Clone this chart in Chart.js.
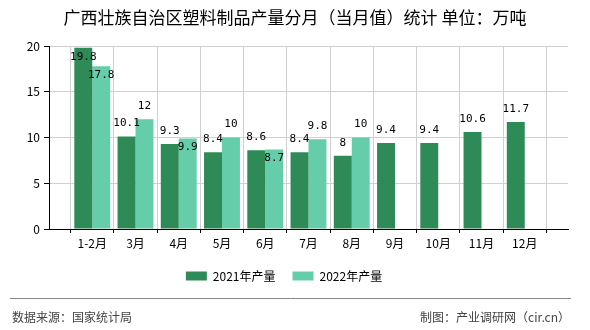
<!DOCTYPE html>
<html>
<head>
<meta charset="utf-8">
<script src="https://cdn.jsdelivr.net/npm/chart.js@4.4.0/dist/chart.umd.min.js"></script>
<style>
  html, body { margin: 0; padding: 0; background: #fff; }
  #wrap { width: 590px; height: 330px; position: relative; }
</style>
</head>
<body>
<div id="wrap"><canvas id="c"></canvas></div>
<script>
// data
const categories = ['1-2月', '3月', '4月', '5月', '6月', '7月', '8月', '9月', '10月', '11月', '12月'];
const output2021 = [19.8, 10.1, 9.3, 8.4, 8.6, 8.4, 8, 9.4, 9.4, 10.6, 11.7];
const output2022 = [17.8, 12, 9.9, 10, 8.7, 9.8, 10];
const yTicks = [0, 5, 10, 15, 20];

const TITLE = '广西壮族自治区塑料制品产量分月（当月值）统计 单位：万吨';
const SOURCE = '数据来源：国家统计局';
const MAKER = '制图：产业调研网（cir.cn）';

const DARK = '#2e8b57';
const LIGHT = '#66cdaa';
const CJK = '"Noto Sans CJK SC", "Noto Sans", sans-serif';

// the axis has an empty slot before the first month and after the last one
const labels = ['', ...categories, ''];
function pad(arr) {
  const out = [null];
  for (let i = 0; i < categories.length; i++) out.push(i < arr.length ? arr[i] : null);
  out.push(null);
  return out;
}

// title + footer
const frame = {
  id: 'frame',
  afterDraw(chart) {
    const ctx = chart.ctx;
    ctx.save();
    ctx.fillStyle = '#000';
    ctx.font = '17px ' + CJK;
    ctx.textAlign = 'center';
    ctx.textBaseline = 'middle';
    ctx.fillText(TITLE, 295, 18);

    ctx.strokeStyle = '#888';
    ctx.lineWidth = 1;
    ctx.beginPath();
    ctx.moveTo(10, 298.5);
    ctx.lineTo(571, 298.5);
    ctx.stroke();

    ctx.fillStyle = '#444';
    ctx.font = '12px ' + CJK;
    ctx.textAlign = 'left';
    ctx.fillText(SOURCE, 12, 317);
    ctx.textAlign = 'right';
    ctx.fillText(MAKER, 570, 317);
    ctx.restore();
  }
};

// value labels: above the bar, pushed inside the bar when they would collide
const valueLabels = {
  id: 'valueLabels',
  afterDatasetsDraw(chart) {
    const ctx = chart.ctx;
    const top = chart.chartArea.top;
    const m0 = chart.getDatasetMeta(0);
    const m1 = chart.getDatasetMeta(1);
    ctx.save();
    ctx.font = '11px "DejaVu Sans Mono", monospace';
    ctx.fillStyle = '#000';
    ctx.textAlign = 'center';
    ctx.textBaseline = 'middle';
    for (let i = 0; i < labels.length; i++) {
      let y0 = null;
      const v0 = chart.data.datasets[0].data[i];
      if (v0 != null) {
        const b = m0.data[i];
        y0 = b.y - 13;
        if (y0 - 6 < top) y0 = b.y + 9;
        ctx.fillText(String(v0), b.x, y0);
      }
      const v1 = chart.data.datasets[1].data[i];
      if (v1 != null) {
        const b = m1.data[i];
        let y1 = b.y - 13;
        if (y1 - 6 < top || (y0 != null && Math.abs(y1 - y0) < 11)) y1 = b.y + 9;
        ctx.fillText(String(v1), b.x, y1);
      }
    }
    ctx.restore();
  }
};

new Chart(document.getElementById('c'), {
  type: 'bar',
  data: {
    labels,
    datasets: [
      { label: '2021年产量', data: pad(output2021), backgroundColor: DARK, categoryPercentage: 0.83, barPercentage: 1 },
      { label: '2022年产量', data: pad(output2022), backgroundColor: LIGHT, categoryPercentage: 0.83, barPercentage: 1 },
    ],
  },
  options: {
    responsive: true,
    maintainAspectRatio: false,
    animation: false,
    layout: { padding: { top: 46, left: 0, right: 22, bottom: 38 } },
    plugins: {
      title: { display: false },
      tooltip: { enabled: false },
      legend: {
        position: 'bottom',
        labels: {
          boxWidth: 21,
          boxHeight: 9,
          padding: 17,
          color: '#000',
          font: { family: CJK, size: 12 },
        },
      },
    },
    scales: {
      x: {
        offset: false,
        grid: { color: '#d0d0d0', tickColor: '#000', tickLength: 4 },
        border: { color: '#000' },
        ticks: { color: '#000', padding: 3, autoSkip: false, maxRotation: 0, font: { family: CJK, size: 12 } },
        afterFit(scale) { scale.height = 24; },
      },
      y: {
        min: yTicks[0],
        max: yTicks[yTicks.length - 1],
        afterBuildTicks(scale) { scale.ticks = yTicks.map(v => ({ value: v })); },
        grid: { color: '#d0d0d0', tickColor: '#000', tickLength: 5 },
        border: { color: '#000' },
        ticks: { color: '#000', padding: 4, font: { family: CJK, size: 12 } },
        afterFit(scale) { scale.width = 49; },
      },
    },
  },
  plugins: [valueLabels, frame],
});
</script>
</body>
</html>
